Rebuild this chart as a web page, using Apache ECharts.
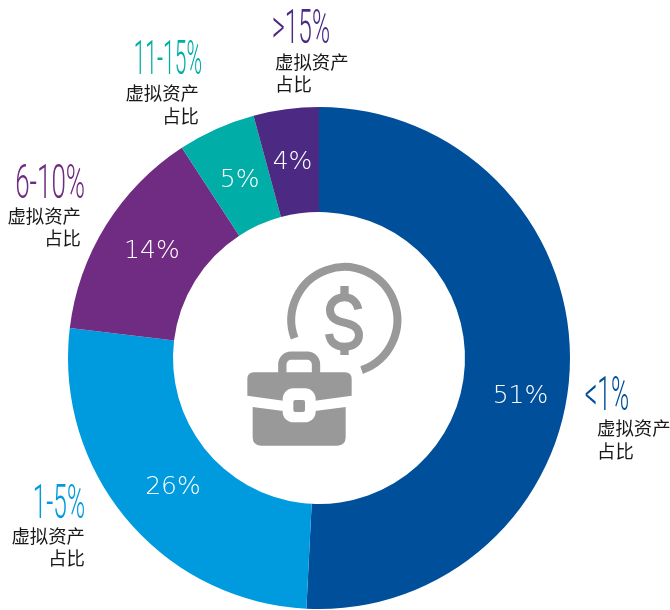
<!DOCTYPE html>
<html><head><meta charset="utf-8">
<style>html,body{margin:0;padding:0;background:#fff}#c{width:670px;height:610px}</style>
<script src="https://cdn.jsdelivr.net/npm/echarts@6/dist/echarts.min.js"></script>
</head><body><div id="c"></div>
<script>
const categories = ['<1%', '1-5%', '6-10%', '11-15%', '>15%'];
const values = [50.8, 26.1, 13.9, 5.0, 4.2];
const valueLabels = ['51%', '26%', '14%', '5%', '4%'];
const unitLine1 = '虚拟资产';
const unitLine2 = '占比';
const colors = ['#004f9b', '#009bde', '#702b82', '#00ada7', '#4c2a84'];

// placement of the outer captions, one per category
const captionLayout = [
  {x: 629, y: 398, w: 0.50, tx: 597, ta: 'left',  y1: 428, y2: 451},
  {x: 85,  y: 506, w: 0.50, tx: 85,  ta: 'right', y1: 536, y2: 558},
  {x: 85,  y: 186, w: 0.53, tx: 81,  ta: 'right', y1: 216, y2: 238},
  {x: 202, y: 62,  w: 0.43, tx: 199, ta: 'right', y1: 93,  y2: 116},
  {x: 330, y: 31,  w: 0.50, tx: 275, ta: 'left', y1: 62,  y2: 84}
];
const labelShift = [[0, 33], [8, 0], [4, 0], [3, 6], [0, 4]];

const pathShape = (name, d) => echarts.graphic.registerShape(name, echarts.graphic.extendPath(d, {}));
pathShape('iconDollar', 'M385 178 C380 152 362 142 343 142 C318 142 300 158 300 180 C300 205 320 212 343 218 C368 224 387 232 387 255 C387 278 368 290 343 290 C320 290 301 280 297 252');
pathShape('iconCaseTop', 'M72 367 L345 367 Q365 367 365 387 L365 437 L255 452 L160 452 L52 437 L52 387 Q52 367 72 367 Z');
pathShape('iconCaseBottom', 'M68 471 L160 483 L255 483 L347 471 L347 562 Q347 587 322 587 L93 587 Q68 587 68 562 Z');

const graphics = [];
categories.forEach((c, i) => {
  const p = captionLayout[i];
  graphics.push({type: 'text', x: p.x, y: p.y, scaleX: p.w, silent: true,
    style: {text: c, fill: colors[i], align: 'right', verticalAlign: 'middle',
            font: '300 49px Roboto'}});
  [[unitLine1, p.y1], [unitLine2, p.y2]].forEach(([t, y]) => {
    graphics.push({type: 'text', x: p.tx, y: y, silent: true,
      style: {text: t, fill: '#1a1718', align: p.ta, verticalAlign: 'middle',
              font: '400 18.4px "Noto Sans CJK SC"'}});
  });
});

const grey = '#999999';
const sty = {fill: grey};
graphics.push({type: 'group', x: 230, y: 250, scaleX: 1/3, scaleY: 1/3, silent: true, children: [
  {type: 'arc', shape: {cx: 343, cy: 210, r: 159, startAngle: 160*Math.PI/180, endAngle: (360+71)*Math.PI/180, clockwise: true},
   style: {fill: 'none', stroke: grey, lineWidth: 24}},
  {type: 'iconDollar', style: {fill: 'none', stroke: grey, lineWidth: 24}},
  {type: 'rect', shape: {x: 331, y: 108, width: 25, height: 36}, style: sty},
  {type: 'rect', shape: {x: 331, y: 286, width: 25, height: 29}, style: sty},
  {type: 'rect', shape: {x: 157, y: 317, width: 101, height: 80, r: 26}, style: {fill: 'none', stroke: grey, lineWidth: 25}},
  {type: 'iconCaseTop', style: sty},
  {type: 'iconCaseBottom', style: sty},
  {type: 'rect', shape: {x: 158, y: 415, width: 99, height: 102, r: 32}, style: {fill: '#fff'}},
  {type: 'rect', shape: {x: 190, y: 450, width: 35, height: 36, r: 6}, style: sty}
]});

const chart = echarts.init(document.getElementById('c'), null, {renderer: 'canvas'});
chart.setOption({
  animation: false,
  series: [{
    type: 'pie',
    center: [319, 358],
    radius: [146, 251],
    startAngle: 90,
    clockwise: true,
    silent: true,
    avoidLabelOverlap: false,
    data: values.map((v, i) => ({
      name: categories[i], value: v,
      itemStyle: {color: colors[i]},
      label: {offset: labelShift[i], formatter: valueLabels[i]}
    })),
    label: {show: true, position: 'inside',
      color: '#fff', fontFamily: 'DejaVu Sans', fontWeight: 200, fontSize: 25},
    labelLine: {show: false}
  }],
  graphic: {elements: graphics}
});
</script></body></html>
